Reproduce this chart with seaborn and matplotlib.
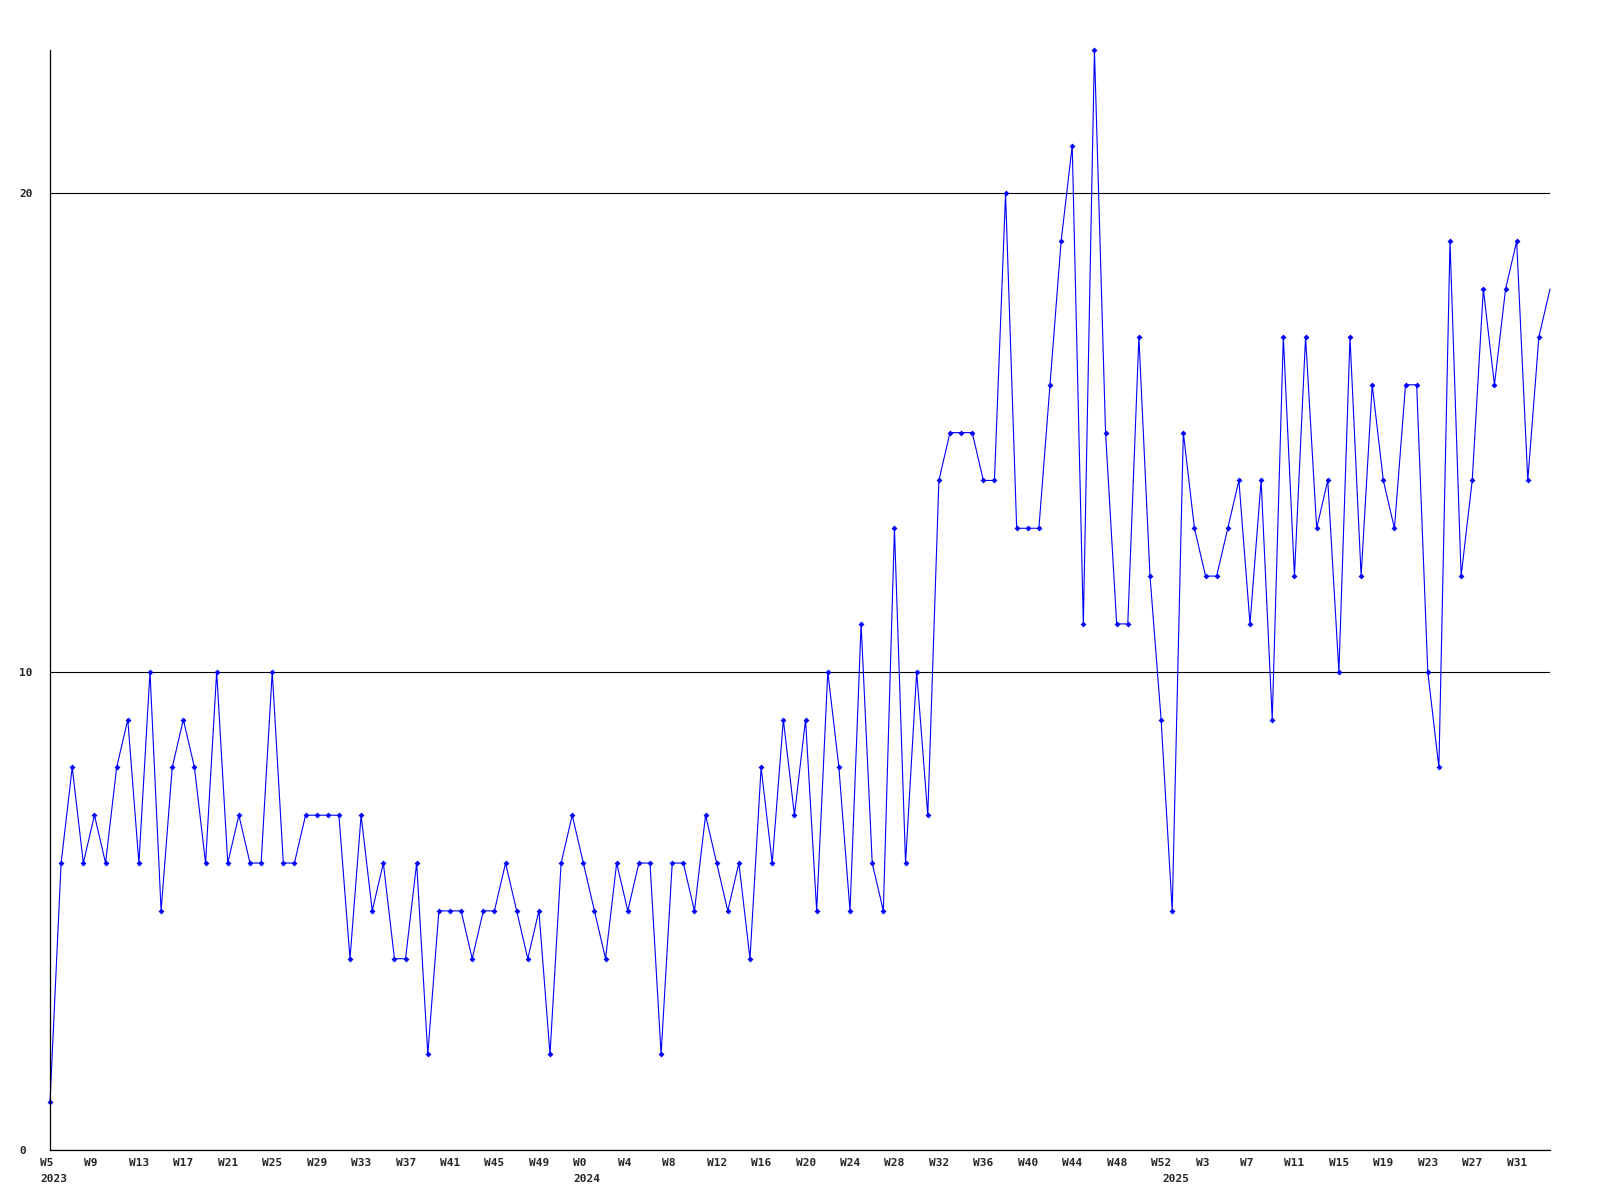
import numpy as np
import pandas as pd
import matplotlib
matplotlib.use("Agg")
import matplotlib.pyplot as plt
import matplotlib.transforms as mtransforms
import seaborn as sns

# weekly counts, W5 2023 .. W34 2025
weeks_2023 = list(range(5, 53))
weeks_2024 = list(range(0, 53))
weeks_2025 = list(range(0, 35))

counts = [
    1, 6, 8, 6, 7, 6, 8, 9, 6, 10, 5, 8, 9, 8, 6, 10, 6, 7, 6, 6,
    10, 6, 6, 7, 7, 7, 7, 4, 7, 5, 6, 4, 4, 6, 2, 5, 5, 5, 4, 5,
    5, 6, 5, 4, 5, 2, 6, 7, 6, 5, 4, 6, 5, 6, 6, 2, 6, 6, 5, 7,
    6, 5, 6, 4, 8, 6, 9, 7, 9, 5, 10, 8, 5, 11, 6, 5, 13, 6, 10, 7,
    14, 15, 15, 15, 14, 14, 20, 13, 13, 13, 16, 19, 21, 11, 23, 15, 11, 11, 17, 12,
    9, 5, 15, 13, 12, 12, 13, 14, 11, 14, 9, 17, 12, 17, 13, 14, 10, 17, 12, 16,
    14, 13, 16, 16, 10, 8, 19, 12, 14, 18, 16, 18, 19, 14, 17, 18,
]

years = ["2023", "2024", "2025"]
y_ticks = [0, 10, 20]

week_labels = ["W%d" % w for w in weeks_2023 + weeks_2024 + weeks_2025]
year_pos = [0, len(weeks_2023), len(weeks_2023) + len(weeks_2024)]

df = pd.DataFrame({"idx": np.arange(len(counts)), "count": counts})

sns.set_style("white")
plt.rcParams["font.family"] = ["DejaVu Sans Mono", "DejaVu Sans"]
plt.rcParams["font.weight"] = "bold"

fig = plt.figure(figsize=(16, 12), dpi=100)
ax = fig.add_axes([50 / 1600, 50 / 1200, 1500 / 1600, 1100 / 1200])

sns.lineplot(data=df, x="idx", y="count", ax=ax, color="#0000ff",
             linewidth=0.8, marker="D", markersize=3.0, markeredgewidth=0,
             markevery=slice(0, len(counts) - 1), clip_on=False)

ax.set_xlim(0, len(counts) - 1)
ax.set_ylim(0, 23)

# grid at 10 and 20
ax.set_yticks(y_ticks)
ax.set_yticklabels([str(v) for v in y_ticks])
ax.yaxis.grid(True, color="black", linewidth=0.8)
ax.set_axisbelow(True)

tick_idx = list(range(0, len(counts), 4))
ax.xaxis.remove_overlapping_locs = False
ax.set_xticks(tick_idx)
ax.set_xticklabels([week_labels[i] for i in tick_idx])
ax.set_xticks(year_pos, minor=True)
ax.set_xticklabels(years, minor=True)

ax.tick_params(axis="x", which="major", length=0, pad=6, labelsize=8)
ax.tick_params(axis="x", which="minor", length=0, pad=17, labelsize=8)
ax.tick_params(axis="y", length=0, pad=22, labelsize=8)

shift = mtransforms.ScaledTranslation(-10 / 100, 0, fig.dpi_scale_trans)
for lab in ax.get_xticklabels() + ax.get_xticklabels(minor=True):
    lab.set_horizontalalignment("left")
    lab.set_transform(lab.get_transform() + shift)
for lab in ax.get_yticklabels():
    lab.set_horizontalalignment("left")

for s in ["top", "right"]:
    ax.spines[s].set_visible(False)
for s in ["left", "bottom"]:
    ax.spines[s].set_color("black")
    ax.spines[s].set_linewidth(0.9)

ax.set_xlabel("")
ax.set_ylabel("")

fig.savefig("out.png", dpi=100, facecolor="white")
